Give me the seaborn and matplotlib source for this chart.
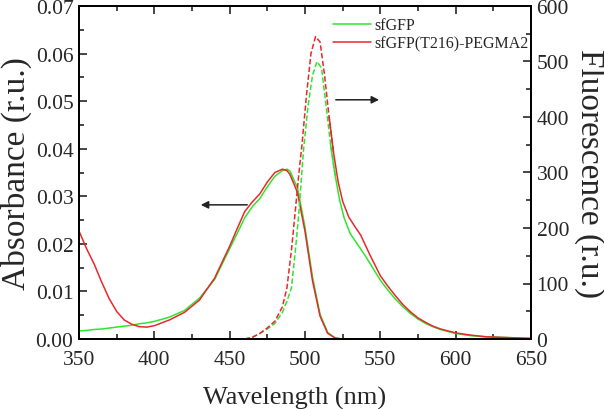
import numpy as np
import pandas as pd
import matplotlib
matplotlib.use('Agg')
import matplotlib.pyplot as plt
import seaborn as sns

# absorbance spectra (left axis)
abs_wl = [350, 355, 360, 365, 370, 375, 380, 385, 390, 395, 400, 410, 420, 430, 440, 450,
          455, 460, 465, 470, 475, 480, 485, 488, 490, 495, 500, 505, 510, 515, 520, 525]
abs_sfgfp = [0.0017, 0.0018, 0.0020, 0.0021, 0.0023, 0.0025, 0.0027, 0.0029, 0.0032, 0.0034,
             0.0037, 0.0046, 0.0060, 0.0086, 0.0125, 0.0190, 0.0222, 0.0255, 0.0278, 0.0295,
             0.0320, 0.0342, 0.0354, 0.0357, 0.0353, 0.0318, 0.0235, 0.0130, 0.0052, 0.0014,
             0.0002, 0.0]
abs_peg = [0.0227, 0.0190, 0.0158, 0.0120, 0.0085, 0.0058, 0.0040, 0.0031, 0.0026, 0.0025,
           0.0028, 0.0040, 0.0056, 0.0082, 0.0128, 0.0195, 0.0232, 0.0268, 0.0288, 0.0305,
           0.0330, 0.0350, 0.0357, 0.0354, 0.0346, 0.0308, 0.0226, 0.0122, 0.0048, 0.0012,
           0.0002, 0.0]

# fluorescence emission spectra (right axis)
fl_wl_sfgfp = [460, 465, 470, 475, 480, 485, 488, 491, 494, 496, 499, 502, 505, 508, 511, 514,
               517, 520, 523, 526, 530, 535, 540, 545, 550, 555, 560, 565, 570, 575, 580, 585,
               590, 600, 610, 620, 630, 640, 650]
fl_sfgfp = [0, 3, 10, 18, 28, 48, 68, 92, 170, 230, 340, 420, 475, 500, 488, 420,
            350, 295, 250, 218, 190, 170, 150, 128, 106, 88, 72, 58, 46, 36, 28, 22,
            17, 10, 6, 4, 3, 2, 1]
fl_wl_peg = [460, 465, 470, 475, 480, 485, 488, 491, 493, 496, 498, 501, 504, 507, 510, 513,
             516, 519, 522, 525, 529, 533, 537, 543, 550, 555, 560, 565, 570, 575, 580, 585,
             590, 600, 610, 620, 630, 640, 650]
fl_peg = [0, 3, 10, 20, 32, 58, 92, 160, 215, 300, 350, 440, 515, 545, 535, 475,
          400, 335, 283, 248, 220, 203, 187, 152, 114, 95, 78, 62, 49, 38, 30, 23,
          18, 11, 7, 4, 3, 2, 1]

labels = ['sfGFP', 'sfGFP(T216)-PEGMA2']
colors = ['#2ee62e', '#e8282c']

sns.set_style('ticks')
plt.rcParams['font.family'] = ['Liberation Serif', 'DejaVu Serif']

fig = plt.figure(figsize=(6.04, 4.10), dpi=100)
ax = fig.add_axes([79 / 604, 70 / 410, 452 / 604, 333 / 410])
ax2 = ax.twinx()

# absorbance, solid
for y, c in zip([abs_sfgfp, abs_peg], colors):
    sns.lineplot(x=abs_wl, y=y, ax=ax, color=c, lw=1.1, sort=False)

# fluorescence: dashed rising side, solid tail
dash = (0, (3.5, 1.6))
for wl, f, c in zip([fl_wl_sfgfp, fl_wl_peg], [fl_sfgfp, fl_peg], colors):
    df = pd.DataFrame({'wl': wl, 'f': f})
    head = df[df.wl <= 520]
    tail = df[df.wl >= 516]
    sns.lineplot(data=head, x='wl', y='f', ax=ax2, color=c, lw=1.1, linestyle=dash)
    sns.lineplot(data=tail, x='wl', y='f', ax=ax2, color=c, lw=1.1)

ax.set_xlim(350, 650)
ax.set_ylim(0, 0.07)
ax2.set_ylim(0, 600)
ax.set_xticks(np.arange(350, 651, 50))
ax.set_xticks(np.arange(375, 650, 50), minor=True)
ax.set_yticks(np.arange(0, 0.0701, 0.01))
ax.set_yticks(np.arange(0.005, 0.07, 0.01), minor=True)
ax.set_yticklabels([f'{v:.2f}' for v in np.arange(0, 0.0701, 0.01)])
ax2.set_yticks(np.arange(0, 601, 100))
ax2.set_yticks(np.arange(50, 600, 100), minor=True)

ax.tick_params(which='both', direction='in', top=True, right=False, labelsize=15.5, width=1.2)
ax.tick_params(axis='x', pad=8)
ax.tick_params(axis='y', pad=4)
ax.tick_params(which='major', length=6)
ax.tick_params(which='minor', length=3.5)
ax2.tick_params(which='both', direction='in', labelsize=15.5, width=1.2, pad=4)
ax2.tick_params(which='major', length=6)
ax2.tick_params(which='minor', length=3.5)
for a in (ax, ax2):
    for s in a.spines.values():
        s.set_linewidth(1.3)
        s.set_color('black')

ax.set_xlabel('Wavelength (nm)', fontsize=19)
ax.xaxis.set_label_coords(0.478, -0.14)
ax.set_ylabel('Absorbance (r.u.)', fontsize=24)
ax.yaxis.set_label_coords(-0.105, 0.5)
ax2.set_ylabel('Fluorescence (r.u.)', fontsize=24, rotation=270, va='bottom')
ax2.yaxis.set_label_coords(1.095, 0.5)

# arrows pointing to the matching axis
ax.annotate('', xy=(429, 0.0282), xytext=(463.5, 0.0282),
            arrowprops=dict(arrowstyle='-|>', color='#222222', lw=1.1, mutation_scale=11))
ax2.annotate('', xy=(551, 431), xytext=(518.6, 431),
             arrowprops=dict(arrowstyle='-|>', color='#222222', lw=1.1, mutation_scale=11))

handles = [plt.Line2D([], [], color=c, lw=1.1) for c in colors]
ax2.legend(handles, labels, loc='upper left', bbox_to_anchor=(0.548, 0.985), frameon=False,
           fontsize=11.5, handlelength=2.4, handletextpad=0.2, labelspacing=0.15,
           borderaxespad=0)

fig.savefig('out.png', dpi=100)
